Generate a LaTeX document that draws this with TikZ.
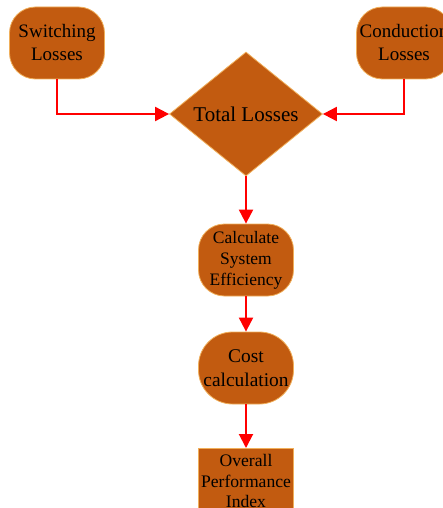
\documentclass[tikz,border=0pt]{standalone}
\usepackage{fontspec}
\setmainfont{Liberation Serif}
\usetikzlibrary{shapes.geometric, arrows.meta, positioning}
\definecolor{boxfill}{RGB}{194,91,16}
\definecolor{boxline}{RGB}{240,175,90}
\definecolor{flowred}{RGB}{255,0,0}
\tikzset{
	>={Triangle[length=14pt,width=14pt]},
	block/.style={rectangle, fill=boxfill, draw=boxline, line width=0.8pt,
		minimum width=95pt, minimum height=72pt, inner sep=1pt,
		align=center, text=black},
	softblock/.style={block, rounded corners=26pt},
	decision/.style={diamond, fill=boxfill, draw=boxline, line width=0.8pt,
		minimum width=153pt, minimum height=124pt, inner sep=0pt,
		align=center, text=black},
	flow/.style={->, draw=flowred, line width=2pt}}

\begin{document}
\begin{tikzpicture}[x=1pt, y=-1pt]
	
		\clip (0,0) rectangle (443,508);
		
		\node[softblock, font=\fontsize{19}{23}\selectfont] (switch) at (57,43) {Switching\\Losses};
		\node[softblock, font=\fontsize{19}{23}\selectfont] (cond) at (404,43) {Conduction\\Losses};
		\node[decision, font=\fontsize{21}{25}\selectfont] (total) at (246,114) {Total Losses};
		\node[softblock, font=\fontsize{17.5}{21}\selectfont] (eff) at (246,260) {Calculate\\System\\Efficiency};
		\node[block, rounded corners=34pt, font=\fontsize{19.4}{24}\selectfont] (cost) at (246,368) {Cost\\calculation};
		\node[block, font=\fontsize{17.6}{20.5}\selectfont, anchor=north, minimum height=66pt] (perf) at (246,448) {Overall\\Performance\\Index};
		
		\draw[flow]
		(switch.south) |- (total.west);
		\draw[flow]
		(cond.south) |- (total.east);
		\draw[flow] (total.south) -- (eff.north);
		\draw[flow] (eff.south) -- (cost.north);
		\draw[flow] (cost.south) -- (perf.north);
	
	\end{tikzpicture}
\end{document}
